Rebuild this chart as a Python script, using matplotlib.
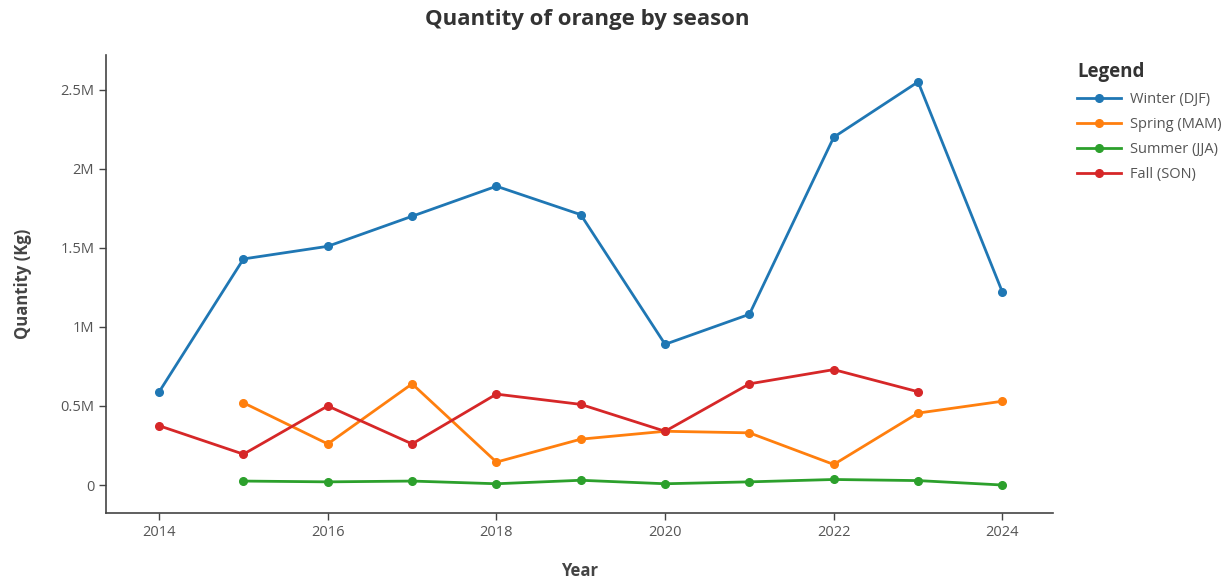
import matplotlib.pyplot as plt
from matplotlib.ticker import FuncFormatter

plt.rcParams["font.family"] = ["Open Sans", "DejaVu Sans"]

years = [2014, 2015, 2016, 2017, 2018, 2019, 2020, 2021, 2022, 2023, 2024]

winter = [0.589e6, 1.43e6, 1.51e6, 1.70e6, 1.89e6, 1.71e6, 0.89e6, 1.08e6, 2.20e6, 2.55e6, 1.22e6]
spring = [None, 0.52e6, 0.26e6, 0.64e6, 0.145e6, 0.29e6, 0.34e6, 0.33e6, 0.13e6, 0.455e6, 0.53e6]
summer = [None, 0.025e6, 0.02e6, 0.025e6, 0.008e6, 0.03e6, 0.008e6, 0.02e6, 0.035e6, 0.028e6, 0.0]
fall = [0.375e6, 0.195e6, 0.50e6, 0.26e6, 0.575e6, 0.51e6, 0.34e6, 0.64e6, 0.73e6, 0.59e6, None]

series = [
    ("Winter (DJF)", winter, "#1f77b4"),
    ("Spring (MAM)", spring, "#ff7f0e"),
    ("Summer (JJA)", summer, "#2ca02c"),
    ("Fall (SON)", fall, "#d62728"),
]


def fmt_millions(value, _pos):
    if value == 0:
        return "0"
    return f"{value / 1e6:g}M"


fig = plt.figure(figsize=(12.28, 5.79), dpi=100)
ax = fig.add_axes([106 / 1228, 1 - 513 / 579, (1053 - 106) / 1228, (513 - 55) / 579])

for label, values, color in series:
    xs = [y for y, v in zip(years, values) if v is not None]
    ys = [v for v in values if v is not None]
    ax.plot(xs, ys, color=color, linewidth=2, marker="o", markersize=5.5, label=label)

ax.set_xlim(2013.37, 2024.6)
ax.set_ylim(-0.177e6, 2.72e6)
ax.set_xticks(range(2014, 2025, 2))
ax.set_yticks([0, 0.5e6, 1e6, 1.5e6, 2e6, 2.5e6])
ax.yaxis.set_major_formatter(FuncFormatter(fmt_millions))

for side in ["top", "right"]:
    ax.spines[side].set_visible(False)
for side in ["left", "bottom"]:
    ax.spines[side].set_color("#444444")
    ax.spines[side].set_linewidth(1.2)
ax.tick_params(axis="both", colors="#444444", labelcolor="#555555", labelsize=10.5, length=5, width=1)

ax.set_xlabel("Year", fontsize=12, fontweight="bold", color="#444444", labelpad=16)
ax.set_ylabel("Quantity (Kg)", fontsize=12, fontweight="bold", color="#444444", labelpad=20)
fig.text(587 / 1228, 1 - 20 / 579, "Quantity of orange by season", fontsize=16, fontweight="bold",
         color="#333333", ha="center", va="center")

leg = ax.legend(
    title="Legend",
    loc="upper left",
    bbox_to_anchor=(1.012, 1.013),
    frameon=False,
    fontsize=10.5,
    handlelength=3.0,
    handletextpad=0.6,
    labelspacing=0.68,
    labelcolor="#555555",
)
leg.get_title().set_fontweight("bold")
leg.get_title().set_fontsize(13.5)
leg.get_title().set_color("#333333")
leg._legend_box.align = "left"

fig.savefig("out.png", dpi=100)
